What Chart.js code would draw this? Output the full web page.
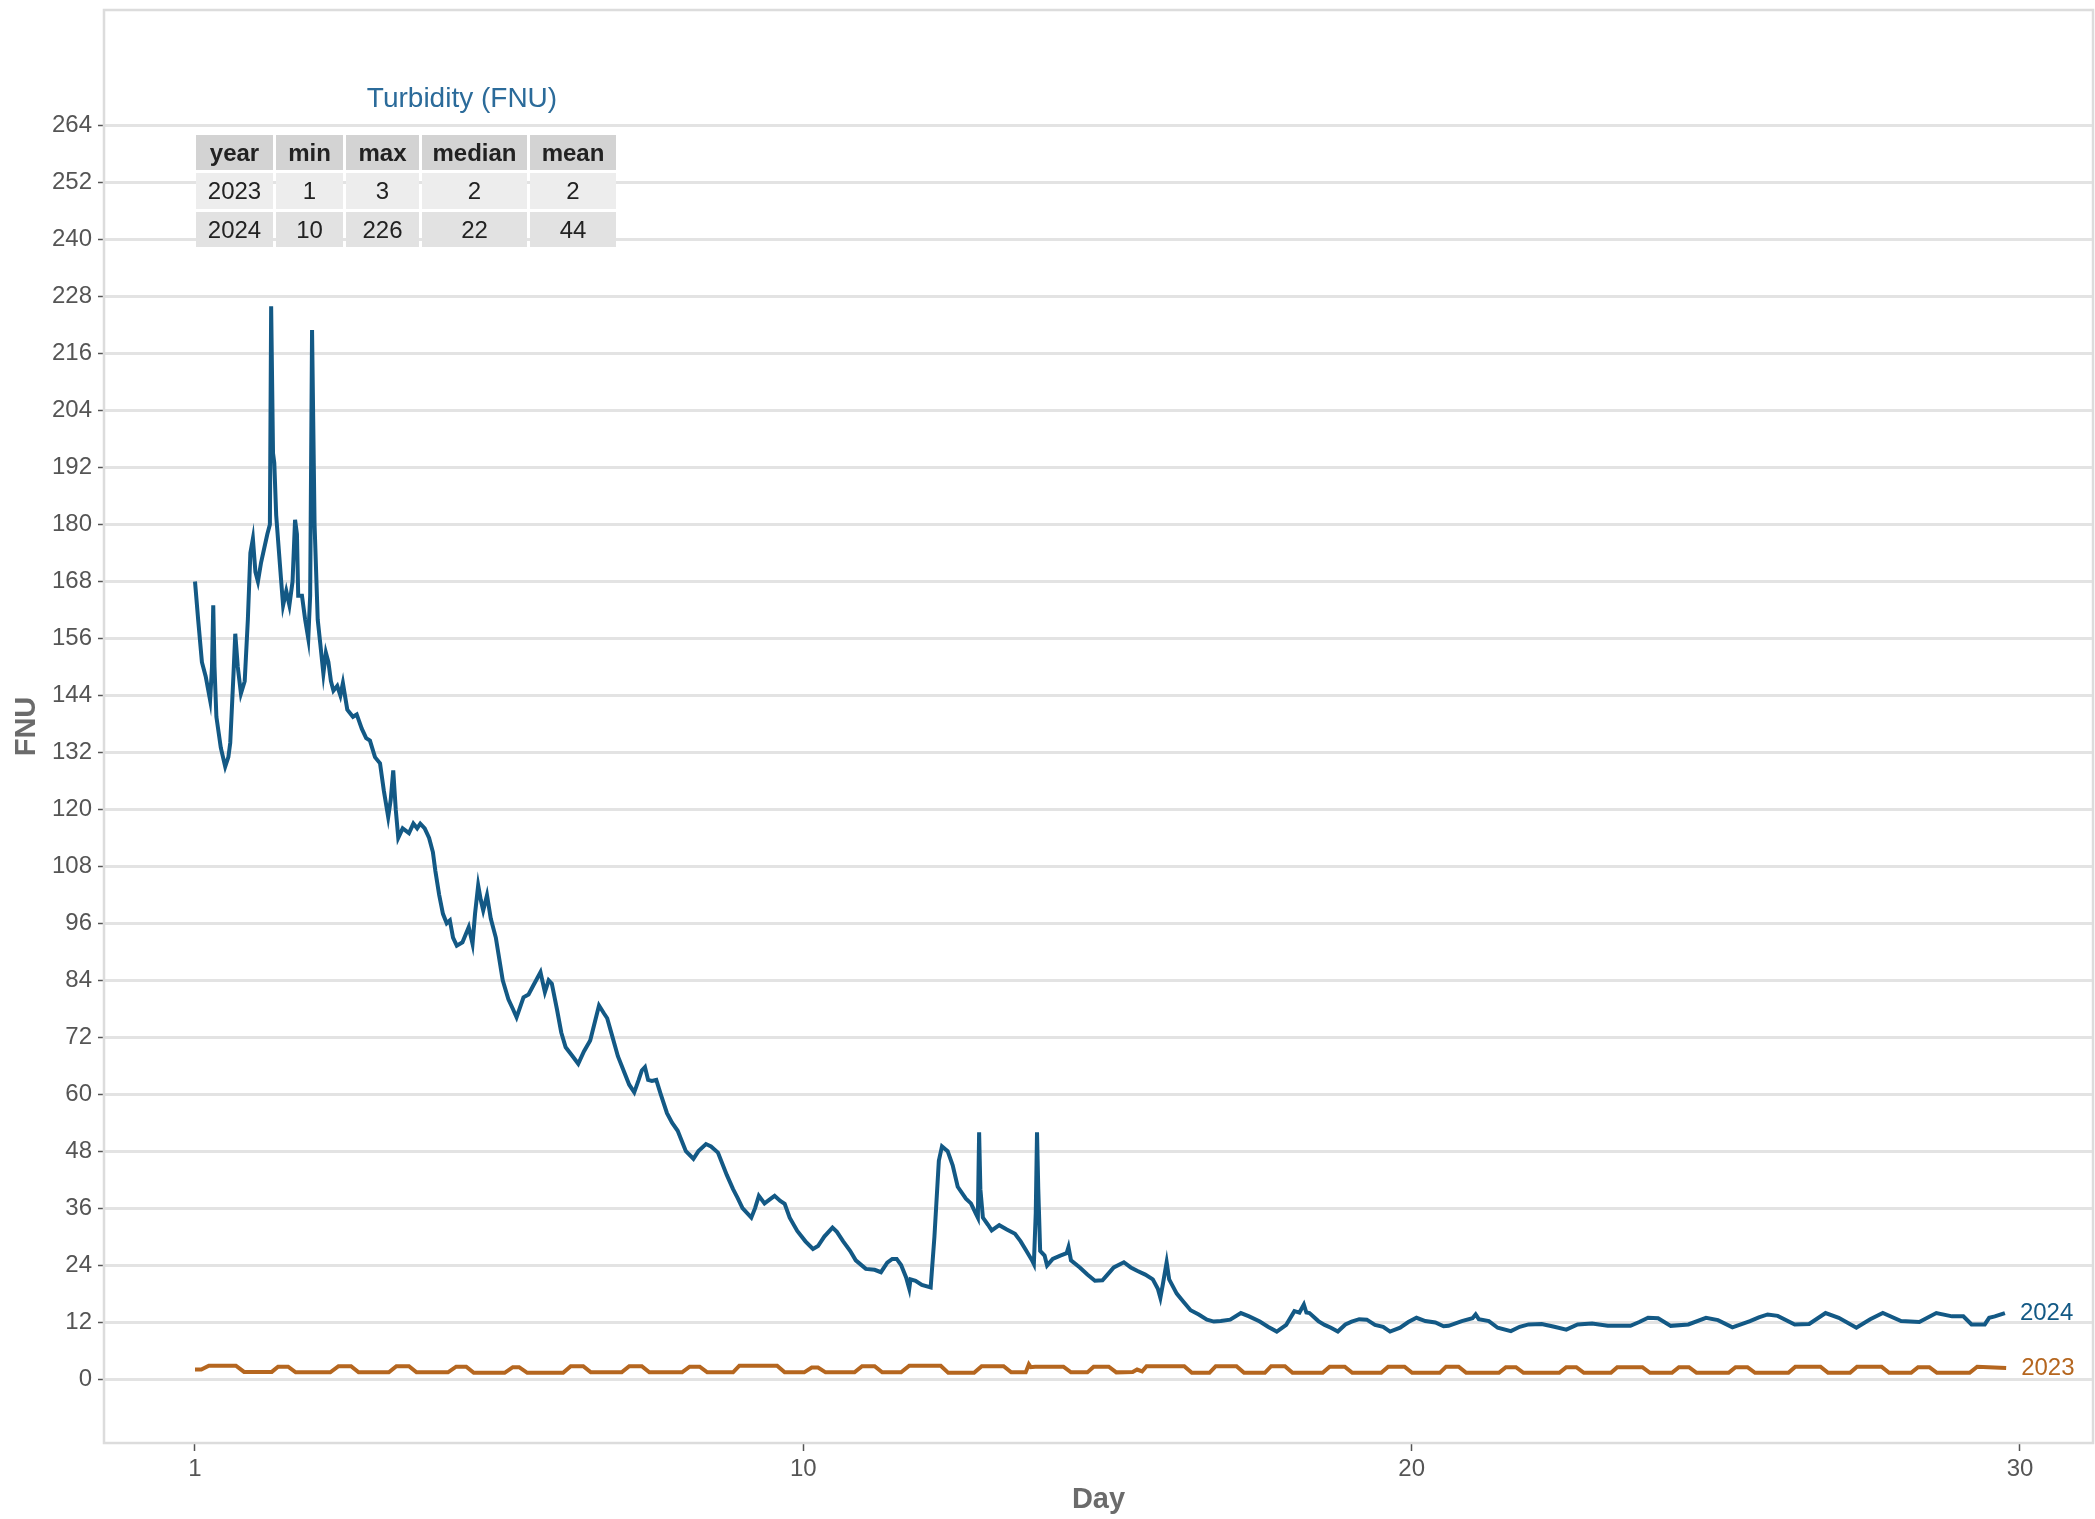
<!DOCTYPE html>
<html>
<head>
<meta charset="utf-8">
<title>Turbidity (FNU)</title>
<script src="https://cdn.jsdelivr.net/npm/chart.js@4.4.1/dist/chart.umd.min.js"></script>
<style>
  html, body { margin: 0; padding: 0; background: #fff; }
  #wrap { position: relative; width: 2095px; height: 1519px; overflow: hidden; }
  #turbChart { position: absolute; left: 0; top: 0; }
  #statsTitle {
    position: absolute; left: 312px; top: 82px; width: 300px; text-align: center;
    font: 28px "Liberation Sans", Arial, sans-serif; color: #2b6b9a; white-space: nowrap;
  }
  #statsTable {
    position: absolute; left: 193px; top: 132px;
    border-collapse: separate; border-spacing: 3px;
    font: 24px "Liberation Sans", Arial, sans-serif; color: #222;
  }
  #statsTable td, #statsTable th { padding: 0; text-align: center; }
  #statsTable th { background: #d3d3d3; font-weight: bold; height: 35px; }
  #statsTable tr.r0 td { background: #ededed; height: 36px; }
  #statsTable tr.r1 td { background: #e2e2e2; height: 35px; }
</style>
</head>
<body>
<div id="wrap">
  <canvas id="turbChart" width="2095" height="1519"></canvas>
  <div id="statsTitle">Turbidity (FNU)</div>
  <table id="statsTable"><thead><tr id="statsHead"></tr></thead><tbody id="statsBody"></tbody></table>
</div>
<script>
// tick labels
const yTicks = [0, 12, 24, 36, 48, 60, 72, 84, 96, 108, 120, 132, 144, 156, 168, 180, 192, 204, 216, 228, 240, 252, 264];
// x tick labels sit evenly spaced between the first and last day in the source
const xTickLabels = [1, 10, 20, 30];

// summary table
const statsHeader = ["year", "min", "max", "median", "mean"];
const statsRows = [
  [2023, 1, 3, 2, 2],
  [2024, 10, 226, 22, 44]
];
const colWidths = [77, 67, 73, 105, 86];

// 2024 series (day, FNU)
const days2024 = [
  1.00, 1.05, 1.11, 1.17, 1.24, 1.27, 1.29, 1.31, 1.34, 1.41, 1.48, 1.53, 1.56, 1.61, 1.64, 1.68, 1.73, 1.79, 1.84, 1.88,
  1.92, 1.96, 2.00, 2.05, 2.10, 2.15, 2.19, 2.21, 2.24, 2.26, 2.29, 2.33, 2.37, 2.40, 2.45, 2.50, 2.55, 2.59, 2.62, 2.64,
  2.70, 2.75, 2.80, 2.83, 2.86, 2.90, 2.95, 2.99, 3.04, 3.08, 3.12, 3.16, 3.20, 3.26, 3.31, 3.35, 3.42, 3.51, 3.57, 3.65,
  3.72, 3.78, 3.86, 3.94, 4.00, 4.07, 4.11, 4.15, 4.19, 4.23, 4.30, 4.40, 4.47, 4.53, 4.58, 4.65, 4.72, 4.78, 4.82, 4.88,
  4.94, 5.00, 5.05, 5.10, 5.16, 5.25, 5.35, 5.41, 5.45, 5.50, 5.54, 5.58, 5.64, 5.70, 5.78, 5.89, 5.98, 6.05, 6.11, 6.22,
  6.30, 6.38, 6.49, 6.56, 6.62, 6.67, 6.75, 6.82, 6.89, 7.00, 7.09, 7.18, 7.28, 7.35, 7.42, 7.50, 7.55, 7.62, 7.72, 7.81,
  7.90, 7.98, 8.05, 8.10, 8.15, 8.20, 8.26, 8.33, 8.40, 8.50, 8.58, 8.67, 8.80, 8.92, 9.00, 9.12, 9.20, 9.31, 9.45, 9.55,
  9.62, 9.70, 9.84, 9.90, 9.96, 10.05, 10.15, 10.21, 10.30, 10.37, 10.45, 10.57, 10.70, 10.82, 10.90, 11.00, 11.13, 11.20, 11.30, 11.41,
  11.50, 11.66, 11.80, 11.90, 12.00, 12.08, 12.15, 12.22, 12.30, 12.35, 12.37, 12.45, 12.55, 12.69, 12.75, 12.82, 12.87, 12.96, 13.04, 13.12,
  13.25, 13.33, 13.41, 13.44, 13.46, 13.48, 13.52, 13.60, 13.66, 13.78, 13.90, 14.03, 14.12, 14.21, 14.30, 14.33, 14.36, 14.38, 14.40, 14.43,
  14.50, 14.54, 14.63, 14.75, 14.85, 14.88, 14.92, 15.06, 15.18, 15.30, 15.42, 15.50, 15.60, 15.76, 15.87, 15.97, 16.10, 16.22, 16.30, 16.34,
  16.38, 16.44, 16.48, 16.52, 16.60, 16.70, 16.82, 16.95, 17.08, 17.19, 17.30, 17.45, 17.62, 17.75, 17.92, 18.05, 18.19, 18.34, 18.47, 18.55,
  18.62, 18.66, 18.71, 18.85, 18.95, 19.05, 19.16, 19.28, 19.38, 19.50, 19.62, 19.75, 19.88, 19.99, 20.15, 20.28, 20.41, 20.55, 20.71, 20.84,
  20.92, 21.13, 21.30, 21.35, 21.40, 21.56, 21.70, 21.91, 22.05, 22.19, 22.40, 22.60, 22.79, 22.97, 23.20, 23.45, 23.81, 23.95, 24.09, 24.25,
  24.45, 24.73, 25.01, 25.20, 25.43, 25.71, 25.85, 25.99, 26.15, 26.42, 26.65, 26.91, 27.12, 27.40, 27.62, 27.82, 28.11, 28.40, 28.67, 28.92,
  29.10, 29.23, 29.44, 29.51, 29.60, 29.76
];
const fnu2024 = [
  168, 160, 151, 148, 143, 150, 163, 150, 139.5, 133, 129, 131, 134, 148, 157, 150, 144.4, 147, 160, 174,
  177, 170, 168, 172, 175, 178, 180, 226, 195, 193, 182, 175, 168, 163, 166, 163, 168, 181, 178, 165,
  165, 160, 156, 165, 221, 180, 160, 155, 148.6, 153, 151, 147, 145, 146, 144, 146.6, 141, 139.5, 140, 137,
  135, 134.5, 131, 129.7, 124, 118.4, 122, 128.2, 120, 114, 116, 115, 117, 116, 117, 116, 114, 111, 107, 102,
  98, 96, 96.6, 93, 91.3, 92, 95.2, 91.7, 98, 104, 101, 98.7, 101.9, 97, 93, 84, 80, 78, 76.2, 80.4,
  81, 83, 85.7, 81.5, 84, 83.3, 78, 73, 69.9, 68, 66.4, 69, 71.3, 75, 78.7, 77, 76, 72.7, 68, 65,
  62, 60.4, 63, 65, 65.7, 63, 62.8, 63, 60, 56, 54, 52.3, 48, 46.4, 48, 49.5, 49, 47.7, 43, 40,
  38.2, 36, 34, 36, 38.6, 37, 38, 38.6, 37.5, 36.9, 34, 31.2, 29, 27.4, 28, 30, 31.9, 31, 29, 27,
  25, 23.2, 23, 22.5, 24.5, 25.3, 25.3, 24, 21.4, 19, 21, 20.7, 19.8, 19.3, 30, 46, 49, 48, 45, 40.5,
  38, 37, 34.8, 34, 52, 40, 34, 32.5, 31.3, 32.4, 31.5, 30.6, 29, 27, 25, 24.2, 35, 52, 40, 27,
  26, 23.9, 25.3, 26, 26.5, 27.8, 25, 23.5, 22, 20.7, 20.8, 22, 23.5, 24.6, 23.5, 22.8, 22, 21, 19, 17.1,
  20, 24.6, 21, 20, 18, 16.4, 14.5, 13.6, 12.5, 12.1, 12.2, 12.5, 13.9, 13.2, 12.1, 11, 10, 11.4, 14.3, 14,
  15.7, 14, 13.9, 12.2, 11.4, 10.8, 10, 11.5, 12.1, 12.6, 12.5, 11.4, 11, 10, 10.8, 12, 12.9, 12.2, 11.9, 11.1,
  11.2, 12.2, 12.8, 13.6, 12.6, 12.2, 10.8, 10.1, 11, 11.5, 11.6, 11, 10.4, 11.5, 11.7, 11.2, 11.2, 12, 12.9, 12.8,
  11.2, 11.5, 12.9, 12.4, 10.9, 12.2, 13, 13.6, 13.3, 11.5, 11.6, 13.9, 12.9, 10.8, 12.6, 13.9, 12.2, 12, 13.9, 13.2,
  13.2, 11.5, 11.5, 12.9, 13.2, 13.9
];

// 2023 series (day, FNU)
const days2023 = [
  1.00, 1.10, 1.22, 1.65, 1.78, 2.22, 2.32, 2.48, 2.60, 3.15, 3.28, 3.48, 3.60, 4.08, 4.20, 4.40, 4.52, 5.02, 5.15, 5.31,
  5.43, 5.92, 6.05, 6.15, 6.28, 6.85, 6.97, 7.17, 7.29, 7.78, 7.90, 8.10, 8.22, 8.74, 8.86, 9.02, 9.14, 9.55, 9.65, 10.25,
  10.37, 10.68, 10.80, 10.90, 11.02, 11.48, 11.60, 11.80, 11.92, 12.22, 12.35, 12.85, 12.97, 13.38, 13.50, 13.85, 13.97, 14.20, 14.25, 14.28,
  14.35, 14.80, 14.92, 15.18, 15.28, 15.52, 15.64, 15.90, 15.97, 16.05, 16.12, 16.72, 16.84, 17.12, 17.22, 17.55, 17.67, 18.00, 18.10, 18.32,
  18.44, 18.92, 19.03, 19.27, 19.39, 19.85, 19.96, 20.22, 20.34, 20.78, 20.88, 21.08, 21.20, 21.72, 21.83, 21.99, 22.11, 22.68, 22.79, 22.95,
  23.07, 23.50, 23.60, 24.00, 24.12, 24.47, 24.58, 24.74, 24.86, 25.37, 25.48, 25.67, 25.79, 26.32, 26.43, 26.83, 26.95, 27.30, 27.41, 27.80,
  27.92, 28.27, 28.38, 28.56, 28.68, 29.20, 29.32, 29.78
];
const fnu2023 = [
  2.0, 2.0, 2.8, 2.8, 1.5, 1.5, 2.6, 2.6, 1.4, 1.4, 2.7, 2.7, 1.4, 1.4, 2.7, 2.7, 1.4, 1.4, 2.6, 2.6,
  1.3, 1.3, 2.5, 2.5, 1.3, 1.3, 2.7, 2.7, 1.4, 1.4, 2.7, 2.7, 1.4, 1.4, 2.6, 2.6, 1.4, 1.4, 2.8, 2.8,
  1.4, 1.4, 2.4, 2.4, 1.4, 1.4, 2.7, 2.7, 1.4, 1.4, 2.8, 2.8, 1.3, 1.3, 2.7, 2.7, 1.4, 1.4, 3.1, 2.5,
  2.6, 2.6, 1.4, 1.4, 2.6, 2.6, 1.4, 1.5, 2.0, 1.6, 2.7, 2.7, 1.3, 1.3, 2.7, 2.7, 1.3, 1.3, 2.7, 2.7,
  1.3, 1.3, 2.6, 2.6, 1.3, 1.3, 2.6, 2.6, 1.3, 1.3, 2.6, 2.6, 1.3, 1.3, 2.5, 2.5, 1.3, 1.3, 2.5, 2.5,
  1.3, 1.3, 2.5, 2.5, 1.3, 1.3, 2.5, 2.5, 1.3, 1.3, 2.5, 2.5, 1.3, 1.3, 2.6, 2.6, 1.3, 1.3, 2.6, 2.6,
  1.3, 1.3, 2.5, 2.5, 1.3, 1.3, 2.6, 2.3
];

const color2024 = "#135985";
const color2023 = "#b5661f";
const fontFamily = '"Liberation Sans", Arial, sans-serif';

// table
document.getElementById("statsHead").innerHTML = statsHeader
  .map((h, i) => `<th style="width:${colWidths[i]}px">${h}</th>`).join("");
document.getElementById("statsBody").innerHTML = statsRows
  .map((r, ri) => `<tr class="r${ri}">${r.map(v => `<td>${v}</td>`).join("")}</tr>`).join("");

// panel border + end labels
const panelBorder = {
  id: "panelBorder",
  beforeDatasetsDraw(chart) {
    const { ctx, chartArea: a } = chart;
    ctx.save();
    ctx.strokeStyle = "#dcdcdc";
    ctx.lineWidth = 2.5;
    ctx.strokeRect(a.left, a.top, a.right - a.left, a.bottom - a.top);
    ctx.restore();
  }
};

const endLabels = {
  id: "endLabels",
  afterDatasetsDraw(chart) {
    const ctx = chart.ctx;
    chart.data.datasets.forEach((ds, i) => {
      const meta = chart.getDatasetMeta(i);
      const last = meta.data[meta.data.length - 1];
      ctx.save();
      ctx.font = `24px ${fontFamily}`;
      ctx.fillStyle = ds.borderColor;
      ctx.textBaseline = "middle";
      ctx.fillText(ds.label, last.x + 15, last.y);
      ctx.restore();
    });
  }
};

const toPoints = (xs, ys) => xs.map((x, i) => ({ x, y: ys[i] }));

// evenly spaced tick positions from first to last label
const first = xTickLabels[0], last = xTickLabels[xTickLabels.length - 1];
const xTickPos = xTickLabels.map((_, i) => first + i * (last - first) / (xTickLabels.length - 1));

new Chart(document.getElementById("turbChart").getContext("2d"), {
  type: "line",
  data: {
    datasets: [
      { label: "2024", data: toPoints(days2024, fnu2024), borderColor: color2024, borderWidth: 4, pointRadius: 0, tension: 0 },
      { label: "2023", data: toPoints(days2023, fnu2023), borderColor: color2023, borderWidth: 4, pointRadius: 0, tension: 0 }
    ]
  },
  options: {
    responsive: false,
    animation: false,
    layout: { padding: { top: 10, right: 2, left: 0, bottom: 0 } },
    plugins: {
      legend: { display: false },
      tooltip: { enabled: false }
    },
    scales: {
      x: {
        type: "linear",
        min: -0.446,
        max: 31.16,
        afterBuildTicks: scale => { scale.ticks = xTickPos.map(v => ({ value: v })); },
        afterFit: scale => { scale.height = 76; scale.paddingLeft = 0; scale.paddingRight = 0; },
        grid: { drawOnChartArea: false, drawTicks: true, tickLength: 8, tickColor: "#555", tickWidth: 1.5 },
        border: { display: false },
        ticks: {
          color: "#555", font: { size: 24, family: fontFamily }, padding: 4, maxRotation: 0,
          callback: (value, index) => String(xTickLabels[index])
        },
        title: { display: true, text: "Day", color: "#6b6b6b", font: { size: 29, weight: "bold", family: fontFamily }, padding: { top: 0, bottom: 2 } }
      },
      y: {
        min: -13.48,
        max: 288.4,
        afterBuildTicks: scale => { scale.ticks = yTicks.map(v => ({ value: v })); },
        afterFit: scale => { scale.width = 104; scale.paddingTop = 0; scale.paddingBottom = 0; },
        grid: { color: "#e3e3e3", lineWidth: 3, drawTicks: true, tickLength: 6, tickColor: "#555", tickWidth: 1.5 },
        border: { display: false },
        ticks: { color: "#555", font: { size: 24, family: fontFamily }, padding: 6 },
        title: { display: true, text: "FNU", color: "#6b6b6b", font: { size: 29, weight: "bold", family: fontFamily }, padding: { top: 10, bottom: 0 } }
      }
    }
  },
  plugins: [panelBorder, endLabels]
});
</script>
</body>
</html>
